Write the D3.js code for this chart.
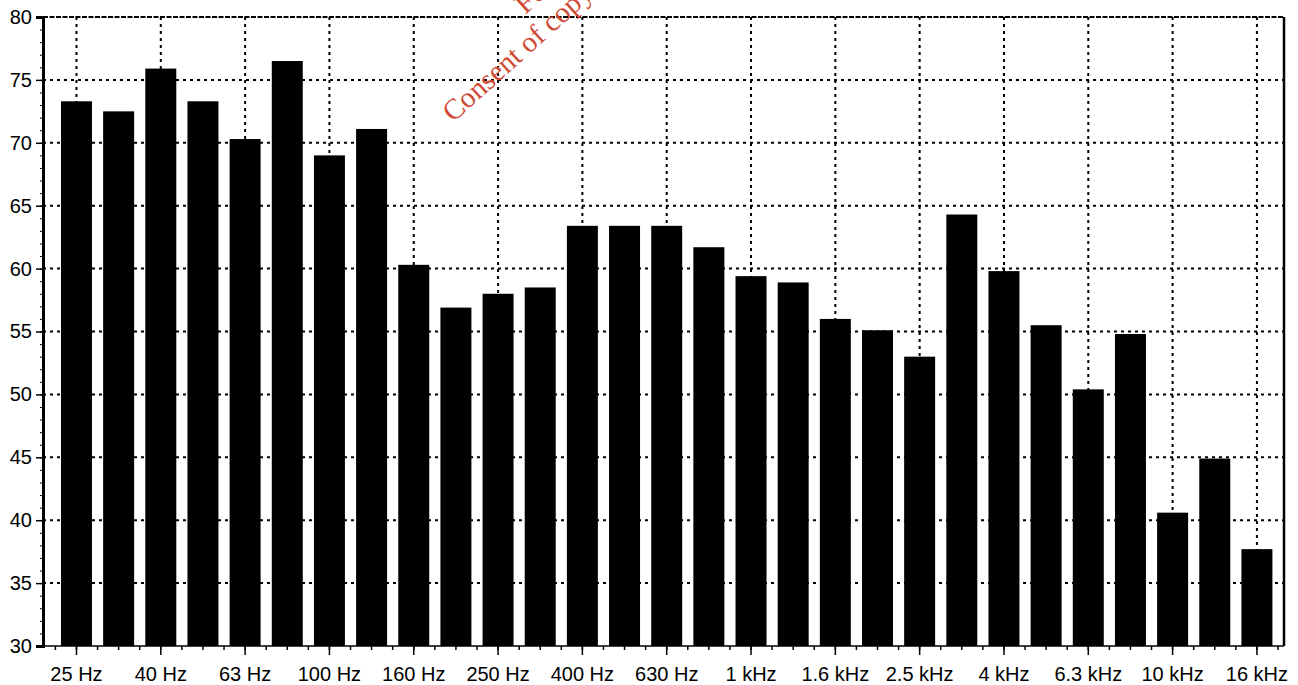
<!DOCTYPE html>
<html>
<head>
<meta charset="utf-8">
<script src="https://cdn.jsdelivr.net/npm/d3@7"></script>
<style>
  html, body { margin: 0; padding: 0; background: #fff; }
  svg { display: block; }
</style>
</head>
<body>
<svg id="chart" width="1298" height="685"></svg>
<script>
// ---- data ----
const categories = ["25 Hz","31.5 Hz","40 Hz","50 Hz","63 Hz","80 Hz","100 Hz","125 Hz","160 Hz","200 Hz",
  "250 Hz","315 Hz","400 Hz","500 Hz","630 Hz","800 Hz","1 kHz","1.25 kHz","1.6 kHz","2 kHz",
  "2.5 kHz","3.15 kHz","4 kHz","5 kHz","6.3 kHz","8 kHz","10 kHz","12.5 kHz","16 kHz"];
const levels = [73.3, 72.5, 75.9, 73.3, 70.3, 76.5, 69.0, 71.1, 60.3, 56.9,
  58.0, 58.5, 63.4, 63.4, 63.4, 61.7, 59.4, 58.9, 56.0, 55.1,
  53.0, 64.3, 59.8, 55.5, 50.4, 54.8, 40.6, 44.9, 37.7];
const labeledCategories = ["25 Hz","40 Hz","63 Hz","100 Hz","160 Hz","250 Hz","400 Hz","630 Hz",
  "1 kHz","1.6 kHz","2.5 kHz","4 kHz","6.3 kHz","10 kHz","16 kHz"];
const yTicks = [30, 35, 40, 45, 50, 55, 60, 65, 70, 75, 80];
const yMinorTicks = d3.range(30, 81, 1);
const yDomain = [30, 80];
const watermarkLines = ["For inspection purposes only.", "Consent of copyright owner required for any other use."];

// ---- layout ----
const svg = d3.select("#chart");
const plot = { left: 43, right: 1284, top: 17, bottom: 646 };

const x = d3.scaleBand().domain(categories).range([55.4, 1278]).paddingInner(0).paddingOuter(0);
const y = d3.scaleLinear().domain(yDomain).range([plot.bottom, plot.top]);
const bw = x.bandwidth();
const barW = bw * 0.735;
const cx = c => x(c) + bw / 2;

svg.append("rect").attr("width", 1298).attr("height", 685).attr("fill", "#fff");

// grid
const grid = svg.append("g");
grid.selectAll("line.h").data(yTicks.filter(v => v > 30 && v < 80)).join("line")
  .attr("x1", plot.left).attr("x2", plot.right)
  .attr("y1", d => y(d)).attr("y2", d => y(d))
  .attr("stroke", "#000").attr("stroke-width", 2).attr("stroke-dasharray", "3,4");
grid.selectAll("line.v").data(labeledCategories).join("line")
  .attr("x1", d => cx(d)).attr("x2", d => cx(d))
  .attr("y1", plot.top).attr("y2", plot.bottom)
  .attr("stroke", "#000").attr("stroke-width", 2).attr("stroke-dasharray", "3,4");

// bars
svg.append("g").selectAll("rect").data(categories).join("rect")
  .attr("x", (d) => cx(d) - barW / 2)
  .attr("width", barW)
  .attr("y", (d, i) => y(levels[i]))
  .attr("height", (d, i) => y(yDomain[0]) - y(levels[i]))
  .attr("fill", "#000");

// frame
svg.append("line").attr("x1", plot.left).attr("x2", plot.right)
  .attr("y1", y(80)).attr("y2", y(80))
  .attr("stroke", "#000").attr("stroke-width", 2.2).attr("stroke-dasharray", "5,1.5");
svg.append("line").attr("x1", plot.right).attr("x2", plot.right)
  .attr("y1", y(80)).attr("y2", plot.bottom)
  .attr("stroke", "#000").attr("stroke-width", 2.5);

// y axis
const yAxis = svg.append("g").attr("transform", `translate(${plot.left},0)`)
  .call(d3.axisLeft(y).tickValues(yTicks).tickSize(7).tickPadding(4).tickFormat(d3.format("d")));
yAxis.select(".domain").attr("stroke-width", 3);
yAxis.selectAll(".tick line").attr("stroke-width", 1.5);
yAxis.selectAll("text").attr("font-family", "Liberation Sans, Arial, sans-serif")
  .attr("font-size", 20).attr("fill", "#000").attr("dx", 0);
const yMinor = svg.append("g").attr("transform", `translate(${plot.left},0)`)
  .call(d3.axisLeft(y).tickValues(yMinorTicks).tickSize(3).tickFormat(""));
yMinor.select(".domain").remove();

// x axis
const xAxis = svg.append("g").attr("transform", `translate(0,${plot.bottom})`)
  .call(d3.axisBottom(x).tickValues(labeledCategories).tickSize(9).tickPadding(12));
xAxis.select(".domain").attr("stroke-width", 1.5).attr("d", `M${plot.left},0H${plot.right}`);
xAxis.selectAll(".tick line").attr("stroke-width", 1.5);
xAxis.selectAll("text").attr("font-family", "Liberation Sans, Arial, sans-serif")
  .attr("font-size", 20).attr("fill", "#000");
// minor x ticks at half-band positions
const xMinorPos = categories.flatMap(c => [x(c), cx(c)]).concat([x(categories[categories.length - 1]) + bw]);
svg.append("g").selectAll("line").data(xMinorPos).join("line")
  .attr("x1", d => d).attr("x2", d => d)
  .attr("y1", plot.bottom).attr("y2", plot.bottom + 4)
  .attr("stroke", "#000").attr("stroke-width", 1.5);

// watermark (the scanned stamp runs off the top edge of the image)
const wm = svg.append("g").attr("transform", "translate(453,123) rotate(-42)")
  .attr("font-family", "Liberation Serif, Times New Roman, serif")
  .attr("font-size", 29).attr("fill", "#d04a36");
wm.append("text").attr("x", 126).attr("y", -32).text(watermarkLines[0]);
wm.append("text").attr("x", 0).attr("y", 0).text(watermarkLines[1]);
</script>
</body>
</html>
